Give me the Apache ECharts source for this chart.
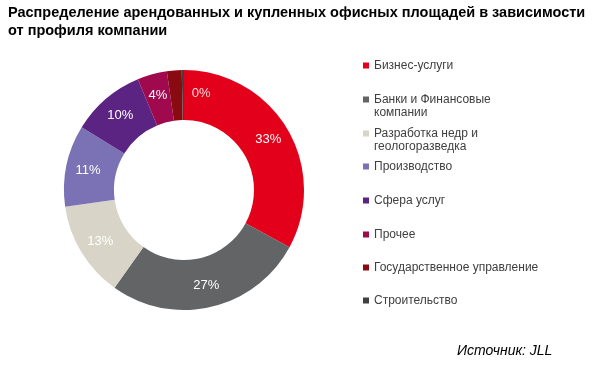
<!DOCTYPE html>
<html><head><meta charset="utf-8">
<script src="https://cdn.jsdelivr.net/npm/echarts@6/dist/echarts.min.js"></script>
<style>html,body{margin:0;padding:0;background:#fff}#c{width:600px;height:370px}</style>
</head><body><div id="c"></div>
<script>
const titleText = 'Распределение арендованных и купленных офисных площадей в зависимости\nот профиля компании';
const sourceText = 'Источник: JLL';
const categories = ['Бизнес-услуги', 'Банки и Финансовые\nкомпании', 'Разработка недр и\nгеологоразведка', 'Производство', 'Сфера услуг', 'Прочее', 'Государственное управление', 'Строительство'];
const values = [33, 27, 13, 11, 10, 4, 2, 0.3];
const colors = ['#e2001a', '#636466', '#d9d4c8', '#7b72b5', '#5c2482', '#a0094e', '#8a0a12', '#404040'];

const font = 'Liberation Sans, Arial, sans-serif';
const iconY = [66, 100, 134, 167, 201, 235, 268, 301];

function legendFor(name, i) {
  const twoLine = name.indexOf('\n') >= 0;
  return {
    data: [name], orient: 'vertical', left: 363, top: iconY[i] - 7, padding: 0,
    icon: twoLine ? 'path://M0,0h6v6h-6zM0,19L6,19' : 'rect',
    itemWidth: 6, itemHeight: twoLine ? 19 : 6, itemGap: 0, selectedMode: false,
    textStyle: {fontFamily: font, fontSize: 12, color: '#404040', lineHeight: 13}
  };
}

const chart = echarts.init(document.getElementById('c'), null, {renderer: 'canvas'});
chart.setOption({
  backgroundColor: '#fff',
  animation: false,
  title: [
    {text: titleText, left: 8, top: 4, padding: 0,
     textStyle: {fontFamily: font, fontSize: 14.5, fontWeight: 'bold', color: '#000', lineHeight: 18}},
    {text: sourceText, left: 457, top: 344, padding: 0,
     textStyle: {fontFamily: font, fontSize: 14, fontStyle: 'italic', fontWeight: 'normal', color: '#000'}}
  ],
  legend: categories.map(legendFor),
  series: [{
    type: 'pie',
    center: [184, 190],
    radius: [70, 120],
    startAngle: 90,
    clockwise: true,
    avoidLabelOverlap: false,
    silent: true,
    data: categories.map((name, i) => ({
      name: name, value: values[i],
      itemStyle: {color: colors[i]},
      label: i === categories.length - 1 ? {offset: [18, 1], color: '#f2dede'} : {}
    })),
    label: {
      show: true, position: 'inside', fontFamily: font, fontSize: 13, color: '#fff',
      formatter: p => Math.round(p.value) + '%'
    },
    labelLine: {show: false}
  }]
});
</script></body></html>
